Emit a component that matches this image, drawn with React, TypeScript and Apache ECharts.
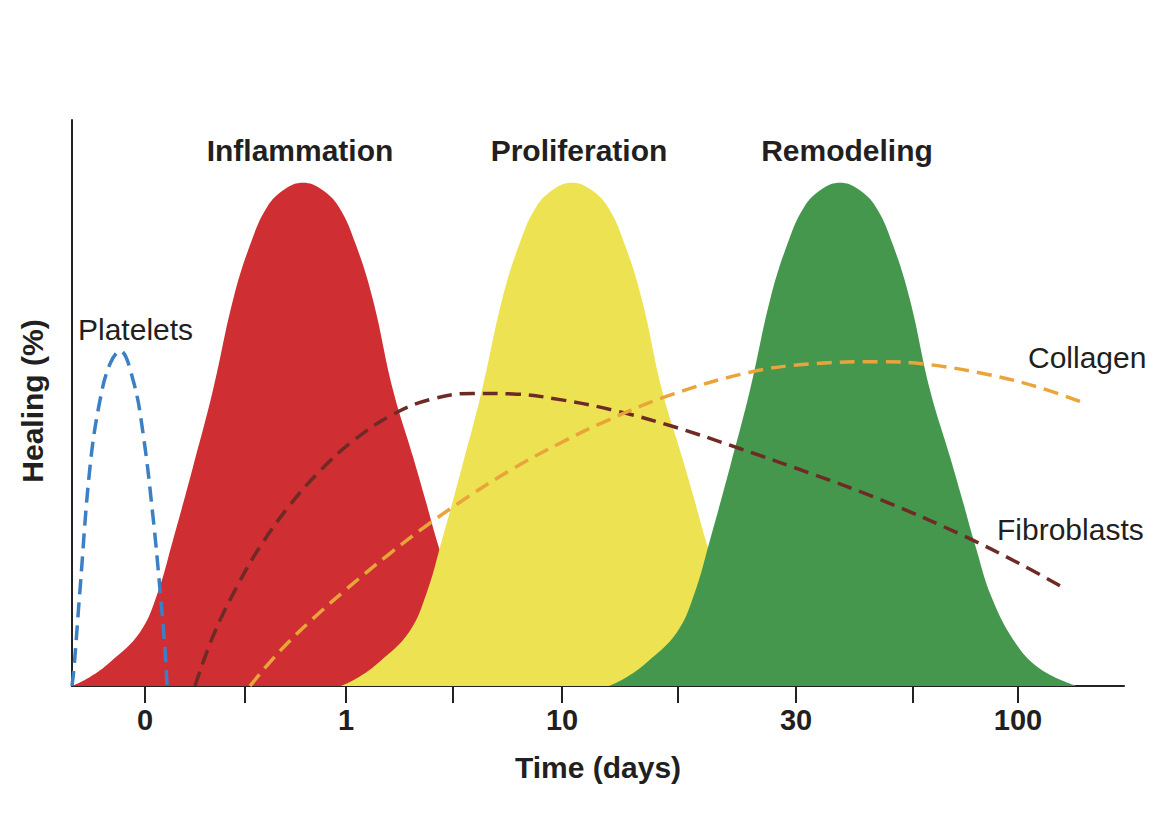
import React, { useEffect, useRef } from "react";
import * as echarts from "echarts";

// x: position along the time axis (0 = y-axis), y: healing (%)
const inflammation: number[][] = [
  [0, 0], [18, 1.6], [38, 4.2], [68, 9.5], [85, 16.1], [101, 25.8], [121, 38.7], [141, 52.3],
  [161, 68.2], [178, 77.9], [195, 84.6], [213, 87.8], [231, 88.9], [249, 87.8], [267, 84.6],
  [284, 77.9], [301, 68.2], [321, 52.3], [341, 40.5], [354, 32.5], [366, 25.0], [383, 15.5],
  [408, 7.2], [433, 2.8], [468, 0],
];
const proliferation: number[][] = [
  [269, 0], [287, 1.6], [307, 4.2], [337, 9.5], [354, 16.1], [370, 25.8], [390, 38.7], [410, 52.3],
  [430, 68.2], [447, 77.9], [464, 84.6], [482, 87.8], [500, 88.9], [518, 87.8], [536, 84.6],
  [553, 77.9], [570, 68.2], [590, 52.3], [610, 40.5], [623, 32.5], [635, 25.0], [652, 15.5],
  [677, 7.2], [702, 2.8], [737, 0],
];
const remodeling: number[][] = [
  [537, 0], [555, 1.6], [575, 4.2], [605, 9.5], [622, 16.1], [638, 25.8], [658, 38.7], [678, 52.3],
  [698, 68.2], [715, 77.9], [732, 84.6], [750, 87.8], [768, 88.9], [786, 87.8], [804, 84.6],
  [821, 77.9], [838, 68.2], [858, 52.3], [878, 40.5], [891, 32.5], [903, 25.0], [920, 15.5],
  [945, 7.2], [970, 2.8], [1005, 0],
];
const platelets: number[][] = [
  [0, 0], [2, 3.2], [8, 17.0], [18, 38.7], [28, 50.5], [38, 56.9], [48, 59.2], [61, 54.1],
  [71, 44.7], [81, 29.9], [88, 17.0], [93, 6.4], [95, 0],
];
const fibroblasts: number[][] = [
  [123, 0], [141, 8.8], [165, 17.6], [188, 24.6], [218, 32.0], [248, 38.0], [281, 43.3],
  [321, 48.0], [358, 50.6], [401, 51.7], [441, 51.6], [488, 50.6], [542, 48.7], [602, 45.8],
  [667, 42.0], [738, 37.6], [809, 32.9], [892, 26.5], [952, 21.2], [995, 17.0],
];
const collagen: number[][] = [
  [178, 0], [208, 6.2], [241, 11.9], [275, 17.2], [315, 23.0], [355, 28.4], [395, 33.3],
  [441, 38.4], [488, 42.9], [534, 46.8], [595, 51.2], [677, 55.4], [738, 56.9], [809, 57.3],
  [852, 56.9], [917, 55.0], [970, 52.6], [1015, 49.8],
];
const tickPositions = [73, 173, 274, 381, 490, 606, 724, 841, 946];
const labelPositions = [73, 274, 490, 724, 946];
const tickLabels = ["0", "1", "10", "30", "100"];
const phaseTitles = ["Inflammation", "Proliferation", "Remodeling"];

const FONT = "'Liberation Sans', Arial, Helvetica, sans-serif";
const TXT = "#231f20";

export default function App() {
  const ref = useRef<HTMLDivElement>(null);
  useEffect(() => {
    document.body.style.margin = "0";
    const chart = echarts.init(ref.current!, null, { renderer: "svg" });
    const area = (name: string, data: number[][], color: string) => ({
      name, type: "line", data, smooth: 0.4, symbol: "none",
      lineStyle: { width: 0, color }, itemStyle: { color },
      areaStyle: { color, opacity: 1 },
    });
    const dashed = (name: string, data: number[][], color: string) => ({
      name, type: "line", data, smooth: 0.4, symbol: "none",
      lineStyle: { width: 3.5, color, type: [15, 8] }, itemStyle: { color },
    });
    const labelMap: Record<number, string> = {};
    labelPositions.forEach((p, i) => (labelMap[p] = tickLabels[i]));
    chart.setOption({
      animation: false,
      grid: { left: 72, right: 52, top: 120, bottom: 134 },
      xAxis: {
        type: "value", min: 0, max: 1052,
        splitLine: { show: false },
        axisLine: { show: true, lineStyle: { color: "#222", width: 2 } },
        axisTick: { show: true, length: 17, lineStyle: { color: "#222", width: 2 }, customValues: tickPositions },
        axisLabel: {
          customValues: labelPositions,
          formatter: (v: number) => labelMap[v] ?? "",
          fontSize: 29, fontWeight: "bold", color: TXT, fontFamily: FONT, margin: 19,
        },
      },
      yAxis: {
        type: "value", min: 0, max: 100,
        splitLine: { show: false },
        axisLine: { show: true, lineStyle: { color: "#222", width: 2 } },
        axisTick: { show: false },
        axisLabel: { show: false },
      },
      series: [
        area("Inflammation", inflammation, "#cf2e33"),
        area("Proliferation", proliferation, "#ede352"),
        area("Remodeling", remodeling, "#45974e"),
        dashed("Platelets", platelets, "#3b7fc4"),
        dashed("Fibroblasts", fibroblasts, "#6e2a24"),
        dashed("Collagen", collagen, "#e9a43a"),
      ],
      graphic: [
        { type: "text", x: 300, y: 150, style: { text: phaseTitles[0], font: `bold 30px ${FONT}`, fill: TXT, align: "center", verticalAlign: "middle" } },
        { type: "text", x: 579, y: 150, style: { text: phaseTitles[1], font: `bold 30px ${FONT}`, fill: TXT, align: "center", verticalAlign: "middle" } },
        { type: "text", x: 847, y: 150, style: { text: phaseTitles[2], font: `bold 30px ${FONT}`, fill: TXT, align: "center", verticalAlign: "middle" } },
        { type: "text", x: 78, y: 329, style: { text: "Platelets", font: `30px ${FONT}`, fill: TXT, align: "left", verticalAlign: "middle" } },
        { type: "text", x: 1028, y: 357, style: { text: "Collagen", font: `30px ${FONT}`, fill: TXT, align: "left", verticalAlign: "middle" } },
        { type: "text", x: 997, y: 529, style: { text: "Fibroblasts", font: `30px ${FONT}`, fill: TXT, align: "left", verticalAlign: "middle" } },
        { type: "text", x: 598, y: 767, style: { text: "Time (days)", font: `bold 30px ${FONT}`, fill: TXT, align: "center", verticalAlign: "middle" } },
        { type: "text", x: 32, y: 401, rotation: Math.PI / 2, style: { text: "Healing (%)", font: `bold 30px ${FONT}`, fill: TXT, align: "center", verticalAlign: "middle" } },
      ],
    });
    return () => chart.dispose();
  }, []);
  return <div ref={ref} style={{ position: "fixed", left: 0, top: 0, width: 1176, height: 820, background: "#fff" }} />;
}
